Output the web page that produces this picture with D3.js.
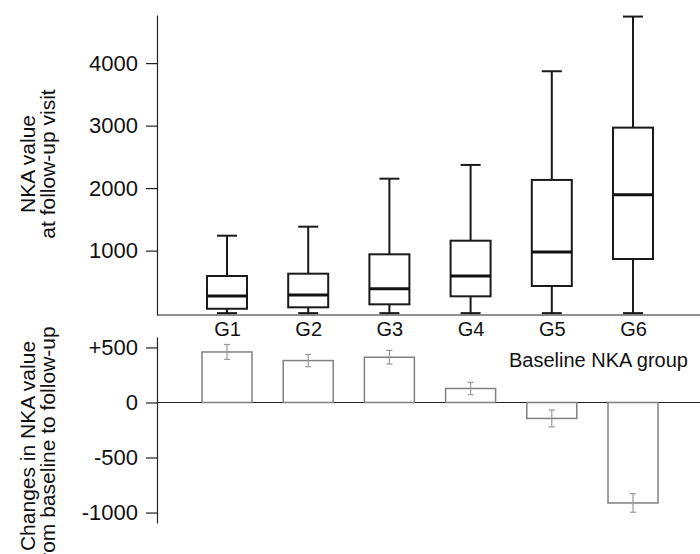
<!DOCTYPE html>
<html>
<head>
<meta charset="UTF-8">
<title>NKA groups</title>
<script src="https://d3js.org/d3.v7.min.js"></script>
<style>
  body { margin: 0; background: #fff; }
  text { font-family: Arial, "Liberation Sans", sans-serif; fill: #111; }
</style>
</head>
<body>
<svg id="chart"></svg>
<script>
// ---- data ----
var groups = ["G1", "G2", "G3", "G4", "G5", "G6"];
// box plot: NKA value at follow-up visit
var whiskerLow = [0, 0, 0, 0, 0, 0];
var q1 = [70, 93, 141, 269, 434, 866];
var median = [274, 290, 391, 594, 978, 1895];
var q3 = [594, 631, 941, 1159, 2131, 2968];
var whiskerHigh = [1239, 1383, 2151, 2371, 3870, 4745];
var topTicks = [1000, 2000, 3000, 4000];
// bar chart: change from baseline to follow-up
var change = [459, 381, 411, 127, -145, -913];
var changeErr = [68, 56, 62, 56, 76, 84];
var bottomTicks = [500, 0, -500, -1000];

var W = 700, H = 554;
var svg = d3.select("#chart").attr("width", W).attr("height", H);

var axisX = 157;

var x = d3.scalePoint().domain(groups).range([227, 633]);

// -------- top panel --------
var yTop = d3.scaleLinear().domain([-30, 4770]).range([315, 15]);

var gTopAxis = svg.append("g")
    .attr("transform", "translate(" + axisX + ",0)")
    .call(d3.axisLeft(yTop).tickValues(topTicks).tickSize(11).tickSizeOuter(0).tickPadding(8)
        .tickFormat(d3.format("d")));
gTopAxis.selectAll("text").style("font-size", "22px");

// horizontal baseline with group labels
var gTopX = svg.append("g")
    .attr("transform", "translate(0,315)")
    .call(d3.axisBottom(x).tickSize(0).tickPadding(7));
gTopX.select(".domain").attr("d", "M" + axisX + ",0H" + W);
gTopX.selectAll("text").style("font-size", "20px");

var boxes = svg.append("g");
groups.forEach(function(g, i) {
    var cx = x(g);
    boxes.append("line")
        .attr("x1", cx).attr("x2", cx)
        .attr("y1", yTop(whiskerLow[i])).attr("y2", yTop(q1[i]))
        .attr("stroke", "#1a1a1a").attr("stroke-width", 2);
    boxes.append("line")
        .attr("x1", cx).attr("x2", cx)
        .attr("y1", yTop(q3[i])).attr("y2", yTop(whiskerHigh[i]))
        .attr("stroke", "#1a1a1a").attr("stroke-width", 2);
    [whiskerLow[i], whiskerHigh[i]].forEach(function(v) {
        boxes.append("line")
            .attr("x1", cx - 10).attr("x2", cx + 10)
            .attr("y1", yTop(v)).attr("y2", yTop(v))
            .attr("stroke", "#1a1a1a").attr("stroke-width", 2);
    });
    boxes.append("rect")
        .attr("x", cx - 20)
        .attr("y", yTop(q3[i]))
        .attr("width", 40)
        .attr("height", yTop(q1[i]) - yTop(q3[i]))
        .attr("fill", "none")
        .attr("stroke", "#1a1a1a")
        .attr("stroke-width", 2);
    boxes.append("line")
        .attr("x1", cx - 20).attr("x2", cx + 20)
        .attr("y1", yTop(median[i])).attr("y2", yTop(median[i]))
        .attr("stroke", "#111").attr("stroke-width", 3);
});

svg.append("text")
    .attr("transform", "translate(0,164) rotate(-90)")
    .attr("text-anchor", "middle")
    .style("font-size", "21px")
    .selectAll("tspan")
    .data(["NKA value", "at follow-up visit"])
    .enter().append("tspan")
    .attr("x", 0)
    .attr("y", function(d, i) { return 35 + i * 20; })
    .text(function(d) { return d; });

// -------- bottom panel --------
var yBot = d3.scaleLinear().domain([-1095, 595]).range([523, 337]);

var gBotAxis = svg.append("g")
    .attr("transform", "translate(" + axisX + ",0)")
    .call(d3.axisLeft(yBot).tickValues(bottomTicks).tickSize(11).tickSizeOuter(0).tickPadding(8)
        .tickFormat(function(d) { return d > 0 ? "+" + d : (d < 0 ? "-" + Math.abs(d) : "0"); }));
gBotAxis.selectAll("text").style("font-size", "22px");

svg.append("line")
    .attr("x1", axisX).attr("x2", W)
    .attr("y1", yBot(0)).attr("y2", yBot(0))
    .attr("stroke", "#222").attr("stroke-width", 1.2);

var bars = svg.append("g");
groups.forEach(function(g, i) {
    var cx = x(g);
    var v = change[i];
    bars.append("rect")
        .attr("x", cx - 25)
        .attr("y", yBot(Math.max(0, v)))
        .attr("width", 50)
        .attr("height", Math.abs(yBot(v) - yBot(0)))
        .attr("fill", "#fff")
        .attr("stroke", "#808080")
        .attr("stroke-width", 1.5);
    var lo = yBot(v - changeErr[i]), hi = yBot(v + changeErr[i]);
    bars.append("line")
        .attr("x1", cx).attr("x2", cx).attr("y1", lo).attr("y2", hi)
        .attr("stroke", "#999").attr("stroke-width", 1.2);
    [lo, hi].forEach(function(yy) {
        bars.append("line")
            .attr("x1", cx - 3).attr("x2", cx + 3).attr("y1", yy).attr("y2", yy)
            .attr("stroke", "#999").attr("stroke-width", 1.2);
    });
});

svg.append("text")
    .attr("x", 688)
    .attr("y", 367)
    .attr("text-anchor", "end")
    .style("font-size", "20px")
    .text("Baseline NKA group");

svg.append("text")
    .attr("transform", "translate(0,446) rotate(-90)")
    .attr("text-anchor", "middle")
    .style("font-size", "21px")
    .selectAll("tspan")
    .data(["Changes in NKA value", "from baseline to follow-up"])
    .enter().append("tspan")
    .attr("x", 0)
    .attr("y", function(d, i) { return 35 + i * 20; })
    .text(function(d) { return d; });

// axis styling
svg.selectAll(".domain").attr("stroke", "#222").attr("stroke-width", 1.2);
svg.selectAll(".tick line").attr("stroke", "#222").attr("stroke-width", 1.2);
svg.selectAll(".tick text").attr("fill", "#111");
</script>
</body>
</html>
